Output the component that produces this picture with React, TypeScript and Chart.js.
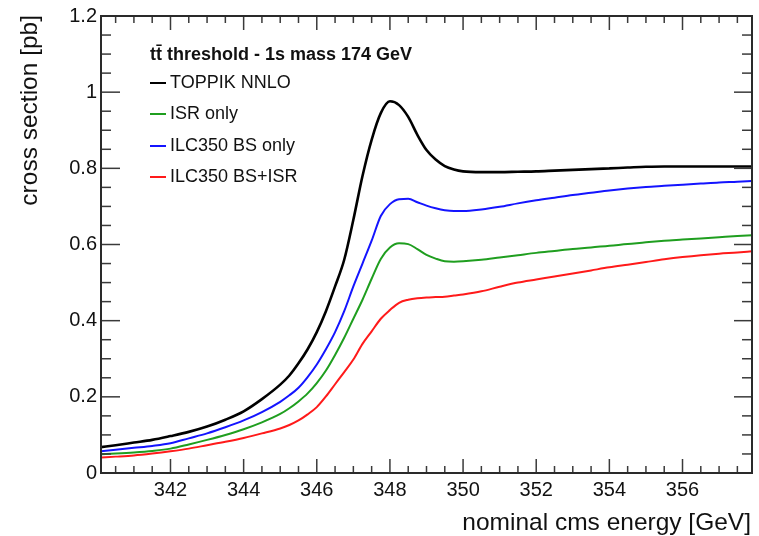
import React, { useEffect, useRef } from "react";
import { Chart, registerables } from "chart.js";

Chart.register(...registerables);

// ---- data ----
const energies = [
  340.1, 340.5, 341, 341.5, 342, 342.5, 343, 343.5, 344, 344.5, 345, 345.25, 345.5, 345.75,
  346, 346.25, 346.5, 346.75, 347, 347.25, 347.5, 347.75, 348, 348.25, 348.5, 348.75, 349,
  349.25, 349.5, 349.75, 350, 350.5, 351, 351.5, 352, 352.5, 353, 353.5, 354, 354.5, 355,
  355.5, 356, 356.5, 357, 357.5, 357.9,
];
const toppikNNLO = [
  0.068, 0.073, 0.08, 0.087, 0.097, 0.108, 0.122, 0.14, 0.162, 0.194, 0.232, 0.256, 0.288, 0.325,
  0.37, 0.425, 0.49, 0.56, 0.665, 0.78, 0.875, 0.945, 0.976, 0.966, 0.935, 0.888, 0.848,
  0.823, 0.806, 0.797, 0.792, 0.79, 0.79, 0.791, 0.792, 0.794, 0.796, 0.798, 0.8, 0.802, 0.804,
  0.805, 0.805, 0.805, 0.805, 0.805, 0.805,
];
const isrOnly = [
  0.049, 0.051, 0.054, 0.058, 0.064, 0.075, 0.087, 0.1, 0.115, 0.133, 0.155, 0.17, 0.188, 0.209,
  0.236, 0.269, 0.31, 0.355, 0.405, 0.455, 0.51, 0.562, 0.592, 0.603, 0.601, 0.588, 0.573,
  0.563, 0.556, 0.555, 0.556, 0.56, 0.566, 0.572, 0.578, 0.583, 0.588, 0.592, 0.597, 0.601, 0.606,
  0.61, 0.613, 0.616, 0.619, 0.622, 0.624,
];
const bsOnly = [
  0.057, 0.061, 0.066, 0.071, 0.078, 0.091, 0.104, 0.12, 0.138, 0.16, 0.187, 0.204, 0.224, 0.252,
  0.285, 0.325, 0.37, 0.425, 0.49, 0.55, 0.61, 0.675, 0.706, 0.719, 0.72, 0.711, 0.702,
  0.695, 0.69, 0.688, 0.688, 0.692, 0.699, 0.708, 0.716, 0.723, 0.73, 0.736, 0.742, 0.747, 0.751,
  0.754, 0.757, 0.76, 0.763, 0.765, 0.767,
];
const bsIsr = [
  0.041, 0.043, 0.046, 0.051, 0.057, 0.064, 0.073, 0.082, 0.092, 0.104, 0.117, 0.126, 0.138, 0.154,
  0.173, 0.201, 0.233, 0.265, 0.298, 0.339, 0.372, 0.405, 0.428, 0.447, 0.455, 0.459, 0.461,
  0.462, 0.463, 0.466, 0.469, 0.477, 0.489, 0.5, 0.508, 0.516, 0.524, 0.532, 0.54, 0.547, 0.554,
  0.561, 0.567, 0.572, 0.576, 0.579, 0.582,
];
const seriesNames = ["TOPPIK NNLO", "ISR only", "ILC350 BS only", "ILC350 BS+ISR"];
const seriesValues = [toppikNNLO, isrOnly, bsOnly, bsIsr];
const seriesColors = ["#000000", "#1f9e1f", "#1414ff", "#ff1a1a"];
const seriesWidths = [2.6, 2, 2, 2];

const xTicks = [342, 344, 346, 348, 350, 352, 354, 356];
const yTicks = [0, 0.2, 0.4, 0.6, 0.8, 1, 1.2];
const yTickLabels = ["0", "0.2", "0.4", "0.6", "0.8", "1", "1.2"];
const xRange = [340.1, 357.9];
const yRange = [0, 1.2];

const legendTitle = "t\u0074\u0304 threshold - 1s mass 174 GeV";
const xTitle = "nominal cms energy [GeV]";
const yTitle = "cross section [pb]";

const FONT = '"Liberation Sans", Arial, Helvetica, sans-serif';

const rootStyle = {
  id: "rootStyle",
  afterDatasetsDraw(chart: any) {
    const { ctx, chartArea: ca, scales } = chart;
    const x = scales.x;
    const y = scales.y;
    const seg = (x1: number, y1: number, x2: number, y2: number) => {
      ctx.beginPath();
      ctx.moveTo(x1, y1);
      ctx.lineTo(x2, y2);
      ctx.stroke();
    };
    ctx.save();
    ctx.strokeStyle = "#3a3a3a";
    ctx.lineWidth = 1.5;
    // x ticks (minor every 0.5)
    for (let k = Math.ceil(x.min * 2); k <= Math.floor(x.max * 2); k++) {
      const v = k / 2;
      const major = xTicks.some((t) => Math.abs(t - v) < 1e-6);
      const len = major ? 14 : 7;
      const px = x.getPixelForValue(v);
      seg(px, ca.bottom, px, ca.bottom - len);
      seg(px, ca.top, px, ca.top + len);
    }
    // y ticks (minor every 0.05)
    for (let k = Math.ceil(y.min * 20); k <= Math.floor(y.max * 20); k++) {
      const v = k / 20;
      const major = k % 4 === 0;
      const py = y.getPixelForValue(v);
      seg(ca.left, py, ca.left + (major ? 19 : 10), py);
      seg(ca.right, py, ca.right - (major ? 18 : 10), py);
    }
    // frame
    ctx.strokeStyle = "#2a2a2a";
    ctx.lineWidth = 2;
    ctx.strokeRect(ca.left, ca.top, ca.right - ca.left, ca.bottom - ca.top);
    ctx.restore();
  },
  afterDraw(chart: any) {
    const { ctx, chartArea: ca } = chart;
    ctx.save();
    ctx.fillStyle = "#111";
    // y title
    ctx.save();
    ctx.translate(30, ca.top - 1);
    ctx.rotate(-Math.PI / 2);
    ctx.font = `24.5px ${FONT}`;
    ctx.textAlign = "right";
    ctx.textBaseline = "middle";
    ctx.fillText(yTitle, 0, 0);
    ctx.restore();
    // x title
    ctx.font = `24.5px ${FONT}`;
    ctx.textAlign = "right";
    ctx.textBaseline = "middle";
    ctx.fillText(xTitle, ca.right - 1, 523);
    // legend
    ctx.textAlign = "left";
    ctx.font = `bold 18px ${FONT}`;
    ctx.fillText(legendTitle, 150, 55);
    ctx.font = `18px ${FONT}`;
    const rows = [83, 114, 146, 177];
    seriesNames.forEach((name, i) => {
      ctx.strokeStyle = seriesColors[i];
      ctx.lineWidth = 2;
      ctx.beginPath();
      ctx.moveTo(150, rows[i]);
      ctx.lineTo(166, rows[i]);
      ctx.stroke();
      ctx.fillText(name, 170, rows[i]);
    });
    ctx.restore();
  },
};

export default function App() {
  const ref = useRef<HTMLCanvasElement | null>(null);
  useEffect(() => {
    if (!ref.current) return;
    const chart = new Chart(ref.current, {
      type: "line",
      data: {
        datasets: seriesNames.map((name, i) => ({
          label: name,
          data: energies.map((e, j) => ({ x: e, y: seriesValues[i][j] })),
          borderColor: seriesColors[i],
          backgroundColor: seriesColors[i],
          borderWidth: seriesWidths[i],
          pointRadius: 0,
          cubicInterpolationMode: "monotone" as const,
          fill: false,
        })),
      },
      options: {
        animation: false,
        responsive: false,
        devicePixelRatio: 1,
        layout: { padding: { left: 0, right: 7, top: 13, bottom: 0 } },
        plugins: { legend: { display: false }, tooltip: { enabled: false } },
        scales: {
          x: {
            type: "linear",
            min: xRange[0],
            max: xRange[1],
            grid: { display: false, drawTicks: false },
            border: { display: false },
            afterBuildTicks: (s: any) => {
              s.ticks = xTicks.map((v) => ({ value: v }));
            },
            afterFit: (s: any) => {
              s.height = 63;
            },
            ticks: {
              padding: 5,
              color: "#111",
              font: { family: FONT, size: 20 },
              maxRotation: 0,
              callback: (v: any) => String(v),
            },
          },
          y: {
            type: "linear",
            min: yRange[0],
            max: yRange[1],
            grid: { display: false, drawTicks: false },
            border: { display: false },
            afterBuildTicks: (s: any) => {
              s.ticks = yTicks.map((v) => ({ value: v }));
            },
            afterFit: (s: any) => {
              s.width = 101;
            },
            ticks: {
              padding: 4,
              color: "#111",
              font: { family: FONT, size: 20 },
              callback: (v: any) => {
                const i = yTicks.findIndex((t) => Math.abs(t - Number(v)) < 1e-9);
                return i >= 0 ? yTickLabels[i] : "";
              },
            },
          },
        },
      },
      plugins: [rootStyle],
    });
    return () => chart.destroy();
  }, []);
  return (
    <div style={{ position: "absolute", left: 0, top: 0, width: 759, height: 536, background: "#fff" }}>
      <canvas ref={ref} width={759} height={536} style={{ display: "block", width: 759, height: 536 }} />
    </div>
  );
}
